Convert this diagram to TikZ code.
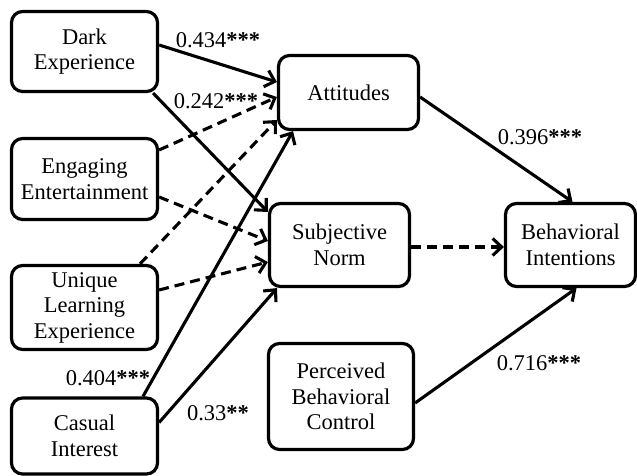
\documentclass[tikz,border=0pt]{standalone}
\usepackage{fontspec}
\setmainfont{Liberation Serif}
\usetikzlibrary{arrows.meta}
\begin{document}
\begin{tikzpicture}[x=1pt,y=-1pt,
  box/.style={draw,line width=3.2pt,rounded corners=11pt,inner sep=0pt,align=center,
    font=\fontsize{22.5}{25.5}\selectfont},
  conn/.style={line width=3.1pt,-{Straight Barb[length=9pt,width=17pt,line width=3.1pt]}},
  dconn/.style={conn,dash pattern=on 10pt off 6pt},
  lab/.style={font=\fontsize{22.5}{25}\selectfont,inner sep=0pt}]
\useasboundingbox (0,0) rectangle (637,476);
\node[box,minimum width=146pt,minimum height=80pt] (dark) at (84.5,51.5) {Dark\\Experience};
\node[box,minimum width=146pt,minimum height=81pt] (eng) at (84.5,179) {Engaging\\Entertainment};
\node[box,minimum width=146pt,minimum height=84pt] (uni) at (84.5,307.5) {Unique\\Learning\\Experience};
\node[box,minimum width=146pt,minimum height=76pt] (cas) at (84.5,436) {Casual\\Interest};
\node[box,minimum width=140pt,minimum height=74pt] (att) at (348.5,92.5) {Attitudes};
\node[box,minimum width=140pt,minimum height=83pt] (sn) at (339.5,245) {Subjective\\Norm};
\node[box,minimum width=130pt,minimum height=83pt] (bi) at (570.5,245) {Behavioral\\Intentions};
\node[box,minimum width=145pt,minimum height=106pt] (pbc) at (341,396.5) {Perceived\\Behavioral\\Control};

\draw[conn] ([yshift=6.5pt]dark.east) -- ([yshift=10.5pt]att.west);
\draw[dconn] ([yshift=29pt]eng.east) -- ([yshift=-4.5pt]att.west);
\draw[conn] ([xshift=-6pt]dark.south east) -- ([yshift=33pt]sn.west);
\draw[dconn] ([xshift=55.5pt]uni.north) -- ([yshift=-27.5pt]att.west);
\draw[conn] ([xshift=58.5pt]cas.north) -- ([xshift=-55.5pt]att.south);
\draw[dconn] ([yshift=-18pt]eng.east) -- ([yshift=4pt]sn.west);
\draw[dconn] ([yshift=17.5pt]uni.east) -- ([yshift=-17pt]sn.west);
\draw[conn] ([yshift=13.5pt]cas.east) -- ([xshift=-62.5pt]sn.south);
\draw[conn] ([yshift=-4.5pt]att.east) -- ([xshift=2pt]bi.north);
\draw[dconn] ([yshift=-2pt]sn.east) -- ([yshift=-2pt]bi.west);
\draw[conn] ([yshift=-6.5pt]pbc.east) -- ([xshift=6pt]bi.south);

\node[lab] (l1) at (218,40) {0.434\textbf{***}};
\node[lab] (l2) at (216,101) {0.242\textbf{***}};
\node[lab] (l3) at (540,137) {0.396\textbf{***}};
\node[lab] (l4) at (539,363) {0.716\textbf{***}};
\node[lab] (l5) at (108,378) {0.404\textbf{***}};
\node[lab] (l6) at (218,413) {0.33\textbf{**}};
\end{tikzpicture}
\end{document}
